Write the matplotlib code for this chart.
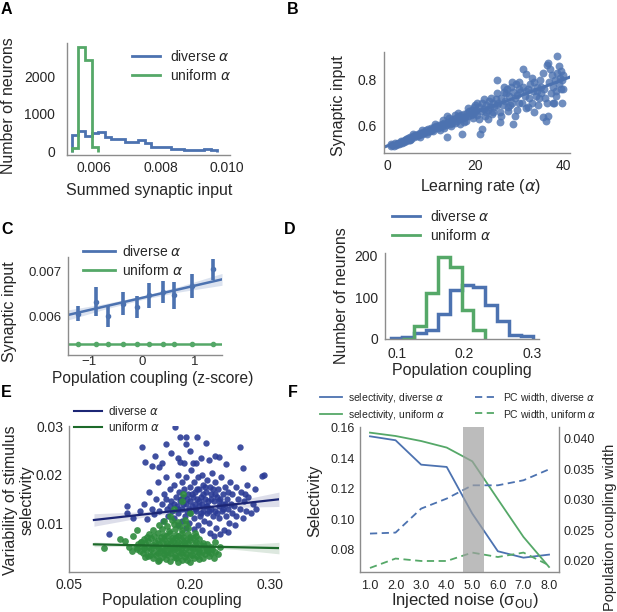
import numpy as np
import matplotlib
matplotlib.use('Agg')
import matplotlib.pyplot as plt
from matplotlib.lines import Line2D

plt.rcParams['font.family'] = ['Liberation Sans', 'DejaVu Sans']
plt.rcParams['mathtext.fontset'] = 'dejavusans'

W, H = 617, 612
BLUE = '#4C72B0'
GREEN = '#55A868'
TXT = '#262626'
SPINE = '#8c8c8c'

# ---------------- data ----------------
# A: summed synaptic input histograms
a_bin_edges = [0.00532, 0.00552, 0.00572, 0.00592, 0.00612, 0.00632, 0.00652, 0.00672,
               0.00692, 0.00712, 0.00732, 0.00752, 0.00772, 0.00792, 0.00812, 0.00832,
               0.00852, 0.00872, 0.00892, 0.00912, 0.00932, 0.00952, 0.00972]
a_diverse_counts = [450, 550, 430, 490, 520, 385, 330, 330, 270, 270, 315, 230,
                    140, 140, 140, 70, 70, 50, 50, 50, 70, 50]
a_uniform_counts = [100, 2760, 2420, 130]

# B: learning rate vs synaptic input
b_pairs = [
    (0.8, 0.505), (1.0, 0.515), (1.2, 0.512), (1.5, 0.508), (1.9, 0.519), (2.0, 0.510), (2.2, 0.515),
    (2.5, 0.522), (2.8, 0.516), (3.0, 0.521), (3.1, 0.528), (3.3, 0.520), (3.6, 0.531), (3.9, 0.524),
    (4.0, 0.533), (4.2, 0.538), (4.4, 0.530), (4.7, 0.541), (5.0, 0.535), (5.2, 0.533), (5.3, 0.548),
    (5.5, 0.540), (5.8, 0.552), (6.0, 0.560), (6.1, 0.547), (6.4, 0.556), (6.7, 0.551), (7.0, 0.562),
    (7.3, 0.555), (7.5, 0.548), (7.6, 0.566), (7.9, 0.560), (8.0, 0.580), (8.2, 0.571), (8.5, 0.565),
    (8.8, 0.577), (9.0, 0.562), (9.1, 0.570), (9.4, 0.583), (9.7, 0.575), (9.9, 0.578), (10.0, 0.588),
    (10.3, 0.580), (10.5, 0.572), (10.6, 0.592), (10.9, 0.585), (11.0, 0.605), (11.2, 0.597), (11.5, 0.589),
    (11.8, 0.600), (12.0, 0.578), (12.1, 0.592), (12.4, 0.606), (12.7, 0.597), (12.8, 0.622), (13.0, 0.610),
    (13.0, 0.588), (13.3, 0.600), (13.6, 0.545), (13.6, 0.640), (13.9, 0.612), (14.0, 0.630), (14.2, 0.603),
    (14.5, 0.620), (14.6, 0.596), (14.8, 0.608),
    (15.1, 0.625), (15.4, 0.610), (15.5, 0.645), (15.7, 0.632), (16.0, 0.618), (16.2, 0.655), (16.3, 0.640),
    (16.5, 0.605), (16.6, 0.625), (16.9, 0.645), (17.0, 0.560), (17.2, 0.630), (17.5, 0.650), (17.5, 0.615),
    (17.8, 0.636), (18.0, 0.620), (18.1, 0.655), (18.4, 0.640), (18.5, 0.675), (18.7, 0.662), (19.0, 0.645),
    (19.3, 0.668), (19.5, 0.630), (19.6, 0.650), (19.8, 0.680), (19.9, 0.660),
    (20.0, 0.690), (20.2, 0.668), (20.5, 0.645), (20.5, 0.700), (20.8, 0.680), (21.0, 0.625), (21.1, 0.560),
    (21.4, 0.662), (21.5, 0.581), (21.7, 0.700), (22.0, 0.672), (22.0, 0.715), (22.3, 0.640), (22.5, 0.660),
    (22.6, 0.690), (22.9, 0.668), (23.0, 0.625), (23.2, 0.705), (23.5, 0.678), (23.7, 0.720), (23.8, 0.650),
    (24.0, 0.660), (24.1, 0.700), (24.4, 0.680), (24.7, 0.715), (24.9, 0.800), (25.0, 0.690), (25.0, 0.740),
    (25.3, 0.700), (25.6, 0.660), (25.7, 0.615), (26.0, 0.720), (26.0, 0.640), (26.3, 0.690), (26.5, 0.770),
    (26.6, 0.745), (26.9, 0.705), (27.0, 0.740), (27.2, 0.760), (27.5, 0.680), (27.6, 0.664), (27.8, 0.730),
    (28.0, 0.690), (28.1, 0.770), (28.4, 0.700), (28.5, 0.790), (28.7, 0.604), (28.7, 0.745), (29.0, 0.720),
    (29.0, 0.640), (29.3, 0.780), (29.5, 0.667), (29.6, 0.735), (29.9, 0.760), (30.0, 0.700),
    (30.0, 0.790), (30.3, 0.745), (30.6, 0.700), (31.0, 0.848), (31.0, 0.770), (31.3, 0.730), (31.5, 0.750),
    (31.7, 0.826), (31.7, 0.674), (32.0, 0.760), (32.0, 0.680), (32.3, 0.720), (32.6, 0.780), (32.9, 0.700),
    (33.0, 0.810), (33.2, 0.750), (33.5, 0.790), (33.5, 0.660), (33.8, 0.730), (34.0, 0.750), (34.1, 0.770),
    (34.4, 0.690), (34.5, 0.720), (34.7, 0.800), (35.0, 0.740), (35.0, 0.770), (35.5, 0.830), (35.5, 0.634),
    (35.8, 0.760), (36.0, 0.720), (36.1, 0.619), (36.3, 0.867), (36.4, 0.700), (36.5, 0.640), (36.6, 0.877),
    (36.9, 0.790), (37.0, 0.850), (37.2, 0.740), (37.5, 0.820), (37.7, 0.698), (37.8, 0.770), (38.0, 0.700),
    (38.1, 0.800), (38.4, 0.750), (38.5, 0.730), (38.6, 0.907), (38.7, 0.830), (39.0, 0.780), (39.0, 0.860),
    (39.3, 0.810), (39.5, 0.760), (39.5, 0.840), (39.7, 0.699), (39.8, 0.800), (40.0, 0.820), (40.0, 0.760),
]
b_fit_x = [-0.7, 41.6]
b_fit_y = [0.502, 0.813]

# C: binned synaptic input vs population coupling z-score
c_bin_x = [-1.22, -0.88, -0.65, -0.37, -0.10, 0.13, 0.39, 0.61, 0.94, 1.34]
c_diverse_mean = [0.00607, 0.00633, 0.00601, 0.00629, 0.00622, 0.00647, 0.00654, 0.00647, 0.00667, 0.00704]
c_diverse_err = [0.00017, 0.00032, 0.00023, 0.00026, 0.00024, 0.00027, 0.00024, 0.00030, 0.00026, 0.00023]
c_uniform_mean = [0.00540, 0.00540, 0.00541, 0.00540, 0.00540, 0.00540, 0.00541, 0.00540, 0.00541, 0.00540]
c_uniform_err = [0.00002, 0.00002, 0.00002, 0.00002, 0.00002, 0.00002, 0.00002, 0.00002, 0.00002, 0.00002]
c_fit_x = [-1.40, 1.51]
c_diverse_fit = [0.00604, 0.00682]
c_uniform_fit = [0.00540, 0.00540]
c_ci_x = [-1.40, -0.7, 0.0, 0.7, 1.51]
c_diverse_ci = [0.00011, 0.00006, 0.00004, 0.00006, 0.00013]

# D: population coupling histograms
d_bin_edges = [0.0905, 0.108, 0.1255, 0.143, 0.1605, 0.178, 0.1955, 0.213, 0.2305,
               0.248, 0.2655, 0.283, 0.3005]
d_diverse_counts = [2, 5, 14, 22, 59, 117, 129, 124, 82, 44, 10, 6]
d_uniform_counts = [1, 30, 109, 196, 172, 69, 22]   # bins 2..8

# E: variability of stimulus selectivity vs population coupling
e_diverse = [
    (0.182, 0.0300), (0.141, 0.0259), (0.170, 0.0265), (0.188, 0.0280), (0.196, 0.0279), (0.209, 0.0280),
    (0.196, 0.0265), (0.220, 0.0267), (0.263, 0.0258), (0.145, 0.0228), (0.153, 0.0219), (0.162, 0.0217),
    (0.166, 0.0226), (0.188, 0.0228), (0.193, 0.0226), (0.204, 0.0226), (0.208, 0.0226), (0.224, 0.0231),
    (0.231, 0.0240), (0.237, 0.0238), (0.266, 0.0214), (0.292, 0.0199), (0.177, 0.0245), (0.200, 0.0250),
    (0.214, 0.0236), (0.157, 0.0240), (0.186, 0.0236), (0.245, 0.0222), (0.271, 0.0180), (0.281, 0.0171),
    (0.269, 0.0160), (0.290, 0.0198),
    (0.100, 0.0077), (0.122, 0.0135), (0.122, 0.0120), (0.130, 0.0110), (0.138, 0.0125), (0.143, 0.0140),
    (0.147, 0.0108), (0.150, 0.0165), (0.153, 0.0130), (0.156, 0.0118), (0.158, 0.0150), (0.160, 0.0185),
    (0.162, 0.0125), (0.165, 0.0140), (0.167, 0.0105), (0.168, 0.0160), (0.170, 0.0195), (0.172, 0.0130),
    (0.173, 0.0115), (0.175, 0.0170),
    (0.177, 0.0145), (0.178, 0.0125), (0.180, 0.0180), (0.181, 0.0110), (0.183, 0.0155), (0.184, 0.0135),
    (0.185, 0.0200), (0.186, 0.0120), (0.187, 0.0165), (0.188, 0.0145), (0.190, 0.0105), (0.190, 0.0185),
    (0.191, 0.0130), (0.192, 0.0155), (0.193, 0.0170), (0.194, 0.0115), (0.195, 0.0140), (0.196, 0.0195),
    (0.197, 0.0125), (0.198, 0.0160), (0.199, 0.0100), (0.200, 0.0145), (0.200, 0.0175), (0.201, 0.0120),
    (0.202, 0.0210), (0.203, 0.0135), (0.204, 0.0155), (0.205, 0.0110), (0.205, 0.0185), (0.206, 0.0140),
    (0.207, 0.0165), (0.208, 0.0125), (0.209, 0.0150), (0.210, 0.0195), (0.210, 0.0095), (0.211, 0.0135),
    (0.212, 0.0170), (0.213, 0.0115), (0.214, 0.0155), (0.215, 0.0140), (0.215, 0.0200), (0.216, 0.0125),
    (0.217, 0.0180), (0.218, 0.0105), (0.219, 0.0150), (0.220, 0.0135), (0.220, 0.0165), (0.221, 0.0190),
    (0.222, 0.0120), (0.223, 0.0145), (0.224, 0.0100), (0.225, 0.0175), (0.226, 0.0130), (0.227, 0.0160),
    (0.228, 0.0205), (0.229, 0.0115), (0.230, 0.0145), (0.231, 0.0185), (0.232, 0.0125), (0.233, 0.0090),
    (0.234, 0.0155), (0.235, 0.0170), (0.236, 0.0135), (0.237, 0.0110), (0.238, 0.0150), (0.239, 0.0195),
    (0.240, 0.0125), (0.241, 0.0160), (0.242, 0.0140), (0.243, 0.0085), (0.244, 0.0175), (0.245, 0.0115),
    (0.246, 0.0150), (0.247, 0.0130), (0.248, 0.0165), (0.249, 0.0100), (0.250, 0.0185), (0.251, 0.0140),
    (0.252, 0.0120), (0.253, 0.0160), (0.255, 0.0135), (0.256, 0.0095), (0.257, 0.0175), (0.258, 0.0115),
    (0.260, 0.0150), (0.262, 0.0130), (0.264, 0.0165), (0.266, 0.0110), (0.268, 0.0145), (0.270, 0.0125),
    (0.273, 0.0155), (0.276, 0.0120), (0.279, 0.0140), (0.283, 0.0130),
    (0.185, 0.0095), (0.195, 0.0090), (0.215, 0.0085), (0.225, 0.0080), (0.238, 0.0078), (0.248, 0.0082),
    (0.230, 0.0072), (0.205, 0.0088),
    (0.192, 0.0140), (0.197, 0.0150), (0.203, 0.0160), (0.207, 0.0130), (0.212, 0.0145), (0.217, 0.0160),
    (0.222, 0.0135), (0.227, 0.0150), (0.232, 0.0160), (0.236, 0.0145), (0.241, 0.0130), (0.244, 0.0140),
    (0.209, 0.0170), (0.219, 0.0175), (0.229, 0.0170), (0.199, 0.0130), (0.214, 0.0120), (0.224, 0.0125),
    (0.234, 0.0120), (0.189, 0.0150), (0.180, 0.0140), (0.176, 0.0135), (0.185, 0.0130), (0.171, 0.0150),
]
e_uniform = [
    (0.155, 0.0027), (0.162, 0.0023), (0.170, 0.0026), (0.176, 0.0021), (0.183, 0.0028), (0.190, 0.0024),
    (0.197, 0.0022), (0.205, 0.0027), (0.212, 0.0025),
    (0.148, 0.0031), (0.158, 0.0034), (0.166, 0.0029), (0.173, 0.0033), (0.180, 0.0030), (0.187, 0.0032),
    (0.194, 0.0029), (0.201, 0.0033), (0.209, 0.0031), (0.217, 0.0028), (0.224, 0.0032),
    (0.142, 0.0037), (0.151, 0.0034), (0.160, 0.0038), (0.168, 0.0035), (0.175, 0.0037), (0.182, 0.0034),
    (0.189, 0.0038), (0.196, 0.0036), (0.203, 0.0033), (0.211, 0.0037), (0.219, 0.0035), (0.227, 0.0038),
    (0.138, 0.0041), (0.146, 0.0043), (0.155, 0.0040), (0.163, 0.0042), (0.171, 0.0039), (0.178, 0.0043),
    (0.185, 0.0041), (0.192, 0.0040), (0.199, 0.0044), (0.207, 0.0041), (0.215, 0.0039), (0.223, 0.0042),
    (0.231, 0.0040),
    (0.135, 0.0046), (0.143, 0.0048), (0.152, 0.0045), (0.160, 0.0047), (0.168, 0.0044), (0.175, 0.0048),
    (0.182, 0.0046), (0.189, 0.0045), (0.196, 0.0049), (0.204, 0.0046), (0.212, 0.0044), (0.220, 0.0047),
    (0.228, 0.0045),
    (0.133, 0.0051), (0.141, 0.0053), (0.150, 0.0050), (0.158, 0.0052), (0.166, 0.0049), (0.173, 0.0053),
    (0.180, 0.0051), (0.187, 0.0050), (0.194, 0.0054), (0.202, 0.0051), (0.210, 0.0049), (0.218, 0.0052),
    (0.226, 0.0050),
    (0.136, 0.0056), (0.145, 0.0058), (0.154, 0.0055), (0.162, 0.0057), (0.170, 0.0054), (0.177, 0.0058),
    (0.184, 0.0056), (0.191, 0.0055), (0.198, 0.0059), (0.206, 0.0056), (0.214, 0.0054), (0.222, 0.0057),
    (0.139, 0.0061), (0.148, 0.0063), (0.157, 0.0060), (0.165, 0.0062), (0.172, 0.0059), (0.179, 0.0063),
    (0.186, 0.0061), (0.193, 0.0060), (0.200, 0.0064), (0.208, 0.0061), (0.216, 0.0059),
    (0.143, 0.0066), (0.152, 0.0068), (0.160, 0.0065), (0.168, 0.0067), (0.175, 0.0064), (0.182, 0.0068),
    (0.189, 0.0066), (0.196, 0.0065), (0.204, 0.0069), (0.212, 0.0066),
    (0.147, 0.0071), (0.156, 0.0073), (0.164, 0.0070), (0.171, 0.0072), (0.178, 0.0069), (0.185, 0.0073),
    (0.192, 0.0071), (0.200, 0.0070), (0.208, 0.0074),
    (0.150, 0.0078), (0.160, 0.0080), (0.168, 0.0076), (0.176, 0.0079), (0.183, 0.0075), (0.190, 0.0080),
    (0.198, 0.0077), (0.206, 0.0079),
    (0.155, 0.0086), (0.165, 0.0088), (0.174, 0.0084), (0.182, 0.0087), (0.190, 0.0085), (0.198, 0.0089),
    (0.162, 0.0096), (0.172, 0.0094), (0.180, 0.0097), (0.188, 0.0093), (0.196, 0.0098),
    (0.168, 0.0104), (0.178, 0.0107), (0.186, 0.0103), (0.194, 0.0106),
    (0.093, 0.0049), (0.114, 0.0067), (0.120, 0.0062), (0.125, 0.0050), (0.128, 0.0042), (0.130, 0.0072),
    (0.135, 0.0085), (0.192, 0.0160), (0.190, 0.0145), (0.180, 0.0130), (0.200, 0.0120), (0.175, 0.0115),
    (0.221, 0.0044), (0.232, 0.0060), (0.238, 0.0050), (0.235, 0.0035), (0.140, 0.0060), (0.145, 0.0030),
    (0.230, 0.0028), (0.160, 0.0020), (0.200, 0.0019), (0.185, 0.0018),
]
e_fit_x = [0.081, 0.311]
e_diverse_fit = [0.01063, 0.01494]
e_uniform_fit = [0.00556, 0.00478]
e_ci_x = [0.081, 0.14, 0.20, 0.26, 0.311]
e_diverse_ci = [0.0013, 0.0006, 0.0003, 0.0007, 0.0015]
e_uniform_ci = [0.0005, 0.0002, 0.0001, 0.0005, 0.0012]

# F: selectivity / PC width vs injected noise
f_noise = [1.0, 2.0, 3.0, 4.0, 5.0, 6.0, 7.0, 8.0]
f_sel_diverse = [0.1543, 0.1517, 0.1357, 0.1342, 0.1036, 0.0789, 0.0747, 0.0767]
f_sel_uniform = [0.1567, 0.1545, 0.1512, 0.1469, 0.1379, 0.1130, 0.0883, 0.0686]
f_pcw_diverse = [0.02448, 0.02464, 0.02856, 0.03020, 0.03237, 0.03237, 0.03319, 0.03498]
f_pcw_uniform = [0.01886, 0.02040, 0.02000, 0.02000, 0.02137, 0.02065, 0.02137, 0.01930]
f_band = [4.65, 5.45]

# ---------------- figure ----------------
fig = plt.figure(figsize=(W / 100, H / 100), dpi=100, facecolor='white')


def make_ax(l, t, r, b):
    return fig.add_axes([l / W, 1 - b / H, (r - l) / W, (b - t) / H])


def style(ax, spines=('left', 'bottom'), xpad=4.0, ypad=5.0, size=10):
    for name, sp in ax.spines.items():
        sp.set_visible(name in spines)
        sp.set_color(SPINE)
        sp.set_linewidth(1.0)
    ax.tick_params(length=0, labelsize=size, colors=TXT)
    ax.tick_params(axis='x', pad=xpad)
    ax.tick_params(axis='y', pad=ypad)
    ax.set_facecolor('white')


def xlabel(ax, text, cx, cy, size=11.5):
    ax.set_xlabel(text, fontsize=size, color=TXT)
    ax.xaxis.label.set_va('center')
    ax.xaxis.set_label_coords(cx / W, 1 - cy / H, transform=fig.transFigure)


def ylabel(ax, text, cx, cy, size=11.5, **kw):
    ax.set_ylabel(text, fontsize=size, color=TXT, **kw)
    ax.yaxis.label.set_va('center')
    ax.yaxis.label.set_ha('center')
    ax.yaxis.set_label_coords(cx / W, 1 - cy / H, transform=fig.transFigure)


def legend(ax, handles, labels, px, py, size=10, hl=2.0, htp=0.7, ls=0.3, **kw):
    ax.legend(handles, labels, loc='upper left', bbox_to_anchor=(px / W, 1 - py / H),
              bbox_transform=fig.transFigure, frameon=False, fontsize=size,
              borderpad=0, borderaxespad=0, handlelength=hl, handletextpad=htp,
              labelspacing=ls, labelcolor=TXT, **kw)


def panel_label(ch, px, py):
    fig.text(px / W, 1 - py / H, ch, fontsize=11.5, fontweight='bold', color='black',
             ha='left', va='top')


div_lab = 'diverse $\\alpha$'
uni_lab = 'uniform $\\alpha$'

# ---- A ----
axA = make_ax(67, 43, 230, 155)
style(axA, xpad=4.3, ypad=8.5)
axA.stairs(a_diverse_counts, a_bin_edges, color=BLUE, lw=2.0)
axA.stairs(a_uniform_counts, a_bin_edges[:len(a_uniform_counts) + 1], color=GREEN, lw=2.0)
axA.set_xlim(0.00518, 0.0101)
axA.set_ylim(-80, 2870)
axA.set_xticks([0.006, 0.008, 0.010])
axA.set_xticklabels(['0.006', '0.008', '0.010'])
axA.set_yticks([0, 1000, 2000])
xlabel(axA, 'Summed synaptic input', 149, 190)
ylabel(axA, 'Number of neurons', 9, 106)
legend(axA, [Line2D([], [], color=BLUE, lw=2), Line2D([], [], color=GREEN, lw=2)],
       [div_lab, uni_lab], 132, 49)

# ---- B ----
axB = make_ax(384, 52, 570, 153)
style(axB, xpad=4.3, ypad=5.0)
bx = [p[0] for p in b_pairs]
by = [p[1] for p in b_pairs]
axB.scatter(bx, by, s=32, color=BLUE, alpha=0.8, linewidths=0)
axB.plot(b_fit_x, b_fit_y, color=BLUE, lw=2.2)
axB.set_xlim(-0.7, 41.6)
axB.set_ylim(0.476, 0.924)
axB.set_xticks([0, 20, 40])
axB.set_yticks([0.6, 0.8])
axB.set_yticklabels(['0.6', '0.8'])
xlabel(axB, 'Learning rate ($\\alpha$)', 480, 187)
ylabel(axB, 'Synaptic input', 338, 106)

# ---- C ----
axC = make_ax(68, 257, 222, 355)
style(axC, xpad=1.0, ypad=4.7, size=9.5)
ci_lo = np.interp(c_ci_x, c_fit_x, c_diverse_fit) - np.array(c_diverse_ci)
ci_hi = np.interp(c_ci_x, c_fit_x, c_diverse_fit) + np.array(c_diverse_ci)
axC.fill_between(c_ci_x, ci_lo, ci_hi, color=BLUE, alpha=0.2, lw=0)
axC.plot(c_fit_x, c_diverse_fit, color=BLUE, lw=1.8)
axC.plot(c_fit_x, c_uniform_fit, color=GREEN, lw=1.8)
axC.errorbar(c_bin_x, c_diverse_mean, yerr=c_diverse_err, fmt='o', ms=3, color=BLUE,
             elinewidth=2.6, capsize=0)
axC.errorbar(c_bin_x, c_uniform_mean, yerr=c_uniform_err, fmt='o', ms=3, color=GREEN,
             elinewidth=2.0, capsize=0)
axC.set_xlim(-1.40, 1.51)
axC.set_ylim(0.005162, 0.00731)
axC.set_xticks([-1, 0, 1])
axC.set_yticks([0.006, 0.007])
axC.set_yticklabels(['0.006', '0.007'])
xlabel(axC, 'Population coupling (z-score)', 153, 378, size=11.2)
ylabel(axC, 'Synaptic input', 10, 312)
legend(axC, [Line2D([], [], color=BLUE, lw=2), Line2D([], [], color=GREEN, lw=2)],
       [div_lab, uni_lab], 83, 244, hl=2.3, htp=0.5)

# ---- D ----
axD = make_ax(385, 253, 539, 339)
style(axD, xpad=5.5, ypad=5.0)
axD.stairs(d_diverse_counts, d_bin_edges, color=BLUE, lw=2.5)
axD.stairs(d_uniform_counts, d_bin_edges[1:len(d_uniform_counts) + 2], color=GREEN, lw=2.5)
axD.set_xlim(0.0822, 0.310)
axD.set_ylim(0, 205)
axD.set_xticks([0.1, 0.2, 0.3])
axD.set_yticks([0, 100, 200])
xlabel(axD, 'Population coupling', 462, 370)
ylabel(axD, 'Number of neurons', 342, 296)
legend(axD, [Line2D([], [], color=BLUE, lw=2), Line2D([], [], color=GREEN, lw=2)],
       [div_lab, uni_lab], 392, 209)

# ---- E ----
axE = make_ax(69, 426, 279, 572)
style(axE, xpad=4.3, ypad=4.3)
E_BLUE = '#2b3c96'
E_GREEN = '#2e8b3d'
E_BLUE_LINE = '#1c2675'
E_GREEN_LINE = '#1d6a2a'
ux = [p[0] for p in e_uniform]
uy = [p[1] for p in e_uniform]
dx = [p[0] for p in e_diverse]
dy = [p[1] for p in e_diverse]
axE.scatter(dx, dy, s=21, color=E_BLUE, alpha=0.9, linewidths=0, zorder=2)
axE.scatter(ux, uy, s=24, color=E_GREEN, alpha=0.9, linewidths=0, zorder=2)
for fit, ci, lc in [(e_diverse_fit, e_diverse_ci, E_BLUE_LINE), (e_uniform_fit, e_uniform_ci, E_GREEN_LINE)]:
    mid = np.interp(e_ci_x, e_fit_x, fit)
    axE.fill_between(e_ci_x, mid - np.array(ci), mid + np.array(ci), color=lc, alpha=0.15, lw=0, zorder=3)
    axE.plot(e_fit_x, fit, color=lc, lw=1.6, zorder=4)
axE.set_xlim(0.051, 0.311)
axE.set_ylim(-0.0002, 0.0302)
axE.set_xticks([0.05, 0.20, 0.30])
axE.set_xticklabels(['0.05', '0.20', '0.30'])
axE.set_yticks([0.01, 0.02, 0.03])
axE.set_yticklabels(['0.01', '0.02', '0.03'])
xlabel(axE, 'Population coupling', 172, 600)
ylabel(axE, 'Variability of stimulus\nselectivity', 19, 500, linespacing=1.15)
legend(axE, [Line2D([], [], color=E_BLUE_LINE, lw=1.5), Line2D([], [], color=E_GREEN_LINE, lw=1.5)],
       [div_lab, uni_lab], 74, 405, size=8.5, hl=2.4, htp=0.5, ls=0.25)

# ---- F ----
axF = make_ax(360, 427, 559, 572)
style(axF, spines=('left', 'bottom'), xpad=5.7, ypad=3.6, size=9)
axF2 = axF.twinx()
style(axF2, spines=('right',), xpad=5.7, ypad=3.6, size=9)
axF.spines['right'].set_visible(False)
l1, = axF.plot(f_noise, f_sel_diverse, color=BLUE, lw=1.3)
l2, = axF.plot(f_noise, f_sel_uniform, color=GREEN, lw=1.3)
l3, = axF2.plot(f_noise, f_pcw_diverse, color=BLUE, lw=1.3, ls=(0, (4, 2.5)))
l4, = axF2.plot(f_noise, f_pcw_uniform, color=GREEN, lw=1.3, ls=(0, (4, 2.5)))
axF2.axvspan(f_band[0], f_band[1], color='#a0a0a0', alpha=0.7, lw=0, zorder=5)
axF.set_xlim(0.61, 8.39)
axF.set_ylim(0.0653, 0.1604)
axF2.set_ylim(0.0182, 0.0419)
axF.set_xticks(f_noise)
axF.set_xticklabels(['%.1f' % v for v in f_noise])
axF.set_yticks([0.08, 0.10, 0.12, 0.14, 0.16])
axF.set_yticklabels(['0.08', '0.10', '0.12', '0.14', '0.16'])
axF2.set_yticks([0.020, 0.025, 0.030, 0.035, 0.040])
axF2.set_yticklabels(['0.020', '0.025', '0.030', '0.035', '0.040'])
xlabel(axF, 'Injected noise (σ$_{\\mathrm{OU}}$)', 465, 600, size=12)
ylabel(axF, 'Selectivity', 315, 501)
axF2.set_ylabel('Population coupling width', fontsize=10.5, color=TXT)
axF2.yaxis.label.set_va('center')
axF2.yaxis.label.set_ha('center')
axF2.yaxis.set_label_coords(610 / W, 1 - 527 / H, transform=fig.transFigure)
legend(axF2, [l1, l2, l3, l4],
       ['selectivity, diverse $\\alpha$', 'selectivity, uniform $\\alpha$',
        'PC width, diverse $\\alpha$', 'PC width, uniform $\\alpha$'],
       320, 391, size=7.5, hl=2.1, htp=0.6, ls=0.3, ncol=2, columnspacing=2.9)

# panel letters
panel_label('A', 1, 2)
panel_label('B', 287, 2)
panel_label('C', 1, 222)
panel_label('D', 284, 222)
panel_label('E', 1, 385)
panel_label('F', 288, 385)

fig.savefig('out.png', dpi=100, facecolor='white')
